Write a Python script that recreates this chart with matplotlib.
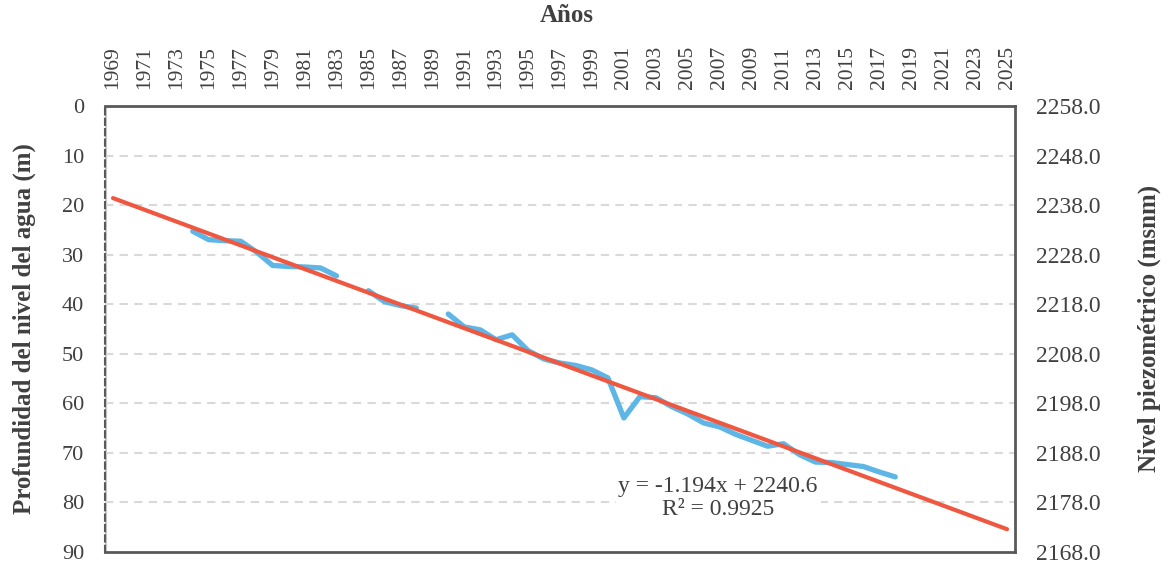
import numpy as np
import matplotlib
matplotlib.use("Agg")
import matplotlib.pyplot as plt

plt.rcParams['font.family'] = ['Liberation Serif', 'DejaVu Serif']

# ---- data ----
years = list(range(1974, 2019))
depth = [25.3, 27.0, 27.2, 27.3, 29.5, 32.2, 32.4, 32.5, 32.7, 34.3,
         np.nan, 37.3, 39.5, 40.3, 40.8, np.nan, 42.0, 44.6, 45.2, 47.2,
         46.2, 49.4, 51.1, 51.9, 52.4, 53.3, 54.9, 63.0, 58.7, 58.9,
         60.7, 62.2, 64.0, 64.8, 66.3, 67.5, 68.7, 68.2, 70.4, 71.9,
         72.0, 72.4, 72.8, 73.9, 74.9]
axis_years = list(range(1969, 2026))
tick_years = list(range(1969, 2026, 2))
left_ticks = list(range(0, 100, 10))
right_ticks = [2258.0, 2248.0, 2238.0, 2228.0, 2218.0, 2208.0, 2198.0, 2188.0, 2178.0, 2168.0]
trend_slope = -1.194
trend_intercept = 2240.6
r2 = 0.9925
ref_level = 2258.0

txt_color = '#404040'
blue = '#5DB6E6'
red = '#EF5740'

fig = plt.figure(figsize=(11.68, 5.64), dpi=100)
ax = fig.add_axes([105/1168, 1-551.7/564, 910/1168, 445.7/564])

# trend line computed from equation (x = category index starting at 1)
idx = np.arange(1, len(axis_years) + 1)
trend_depth = ref_level - (trend_slope * idx + trend_intercept)

ax.plot(years, depth, color=blue, lw=3.8, solid_capstyle='round', solid_joinstyle='round', zorder=3)
ax.plot(axis_years, trend_depth, color=red, lw=3.0, solid_capstyle='round', zorder=4)

ax.set_xlim(1968.5, 2025.5)
ax.set_ylim(90, 0)

ax.set_yticks(left_ticks)
for t in left_ticks[1:-1]:
    ax.axhline(t, color='#d9d9d9', lw=1.5, ls=(0, (4, 3)), zorder=1)

ax.xaxis.tick_top()
ax.set_xticks(tick_years)
ax.set_xticklabels([str(y) for y in tick_years], rotation=90)
ax.tick_params(axis='x', length=0, pad=12, labelsize=15.5, colors=txt_color)
ax.tick_params(axis='y', length=0, pad=15, labelsize=16, colors=txt_color)

for s in ['top', 'bottom', 'right']:
    ax.spines[s].set_color('#595959')
    ax.spines[s].set_linewidth(2.0)
ax.spines['left'].set_color('#595959')
ax.spines['left'].set_linewidth(1.5)
ax.spines['left'].set_linestyle((0, (3, 2)))
ax.axvline(1968.5, color='#c8c8c8', lw=3, zorder=0)

ax.set_ylabel('Profundidad del nivel del agua (m)', fontsize=18, fontweight='bold', color=txt_color)
ax.yaxis.set_label_coords((36-105)/910, 0.5)

ax2 = ax.twinx()
ax2.set_ylim(ref_level - 90, ref_level)
ax2.set_yticks(right_ticks)
ax2.set_yticklabels([f'{v:.1f}' for v in right_ticks])
ax2.tick_params(axis='y', length=0, pad=15, labelsize=17, colors=txt_color)
for s in ax2.spines.values():
    s.set_visible(False)
ax2.set_ylabel('Nivel piezométrico (msnm)', fontsize=18, fontweight='bold', color=txt_color)
ax2.yaxis.set_label_coords((1138-105)/910, 0.5)

fig.text(567/1168, 1-16/564, 'Años', ha='center', va='center', fontsize=18,
         fontweight='bold', color=txt_color)

ax.text(2006.9, 79.2, f'y = {trend_slope}x + {trend_intercept}\nR² = {r2}',
        ha='center', va='center', fontsize=17, color=txt_color, linespacing=1.1,
        bbox=dict(facecolor='white', edgecolor='none', pad=2), zorder=2)

fig.savefig('out.png', dpi=100)
